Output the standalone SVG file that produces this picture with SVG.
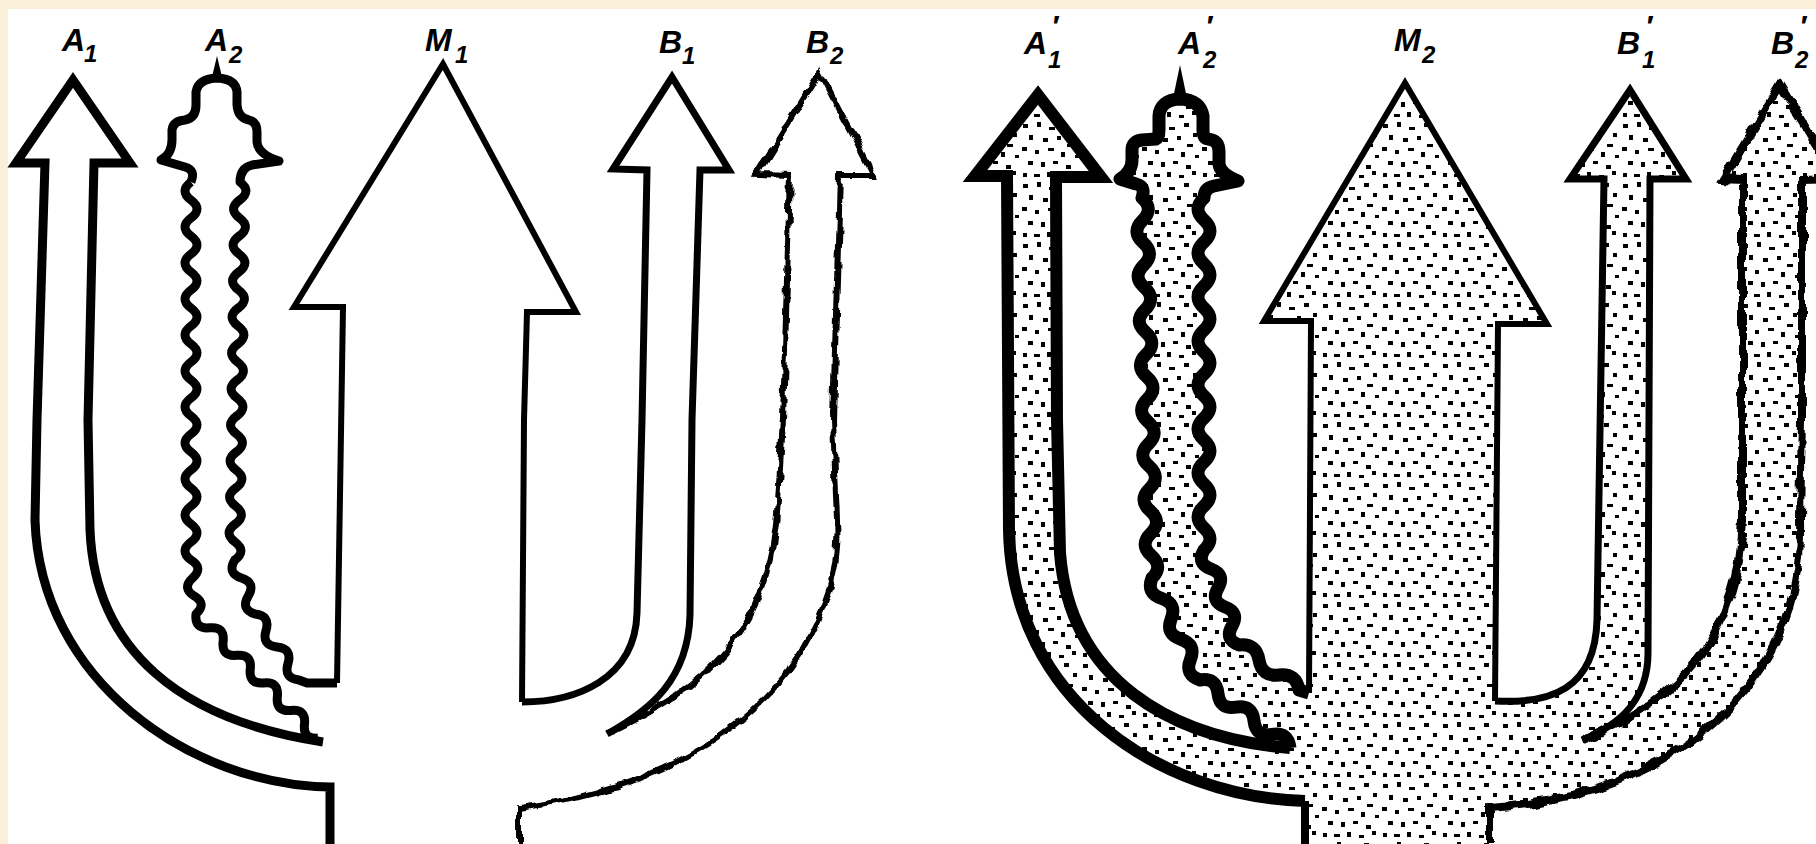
<svg xmlns="http://www.w3.org/2000/svg" width="1816" height="844" viewBox="0 0 1816 844">
<style>
.ln{fill:none;stroke:#000;stroke-linejoin:miter;stroke-linecap:butt}
.wv{fill:none;stroke:#000;stroke-linejoin:round;stroke-linecap:butt}
.lbl{font-family:"Liberation Sans",Arial,sans-serif;font-weight:bold;font-style:italic;font-size:32px;fill:#000}
.sub{font-size:24px}
.pr{font-size:30px}
</style>
<defs>
<pattern id="stip" width="60" height="60" patternUnits="userSpaceOnUse">
<g fill="#000">
<rect x="3" y="4" width="5" height="4"/><rect x="17" y="2" width="4" height="5"/><rect x="29" y="7" width="6" height="3"/><rect x="44" y="3" width="5" height="4"/><rect x="53" y="13" width="4" height="4"/>
<rect x="9" y="15" width="4" height="5"/><rect x="23" y="18" width="5" height="4"/><rect x="37" y="16" width="4" height="4"/><rect x="47" y="24" width="6" height="3"/>
<rect x="2" y="27" width="5" height="4"/><rect x="15" y="30" width="4" height="4"/><rect x="28" y="28" width="6" height="3"/><rect x="41" y="32" width="4" height="5"/><rect x="55" y="35" width="4" height="3"/>
<rect x="8" y="41" width="5" height="4"/><rect x="21" y="42" width="4" height="5"/><rect x="33" y="41" width="5" height="3"/><rect x="46" y="45" width="5" height="4"/>
<rect x="3" y="53" width="4" height="4"/><rect x="14" y="54" width="6" height="3"/><rect x="27" y="52" width="4" height="5"/><rect x="39" y="55" width="5" height="3"/><rect x="52" y="51" width="4" height="4"/>
</g>
</pattern>
<filter id="rough" x="-10%" y="-10%" width="120%" height="120%">
<feTurbulence type="fractalNoise" baseFrequency="0.06" numOctaves="2" seed="4" result="n"/>
<feDisplacementMap in="SourceGraphic" in2="n" scale="9" xChannelSelector="R" yChannelSelector="G"/>
</filter>
</defs>

<g id="background">
<rect x="0" y="0" width="1816" height="844" fill="#FAEFD8"/>
<rect x="8" y="9" width="1808" height="835" fill="#FFFFFF"/>
</g>

<g id="left-figure">
<g id="A1">
<path class="ln" stroke-width="9" d="M 330 844 L 330 787 C 190 785 40 680 35 520 L 37 420 L 45 163 L 16 163 L 73 80 L 130 163 L 94 163 L 88 420 L 90 530 C 95 650 180 720 323 742"/>
</g>
<g id="A2">
<path class="wv" stroke-width="9" d="M 191 182 Q 196 170 185 167 L 161 160 Q 172 154 172 140 L 172 130 Q 173 121 185 120 Q 196 118 196 105 L 196 92 Q 198 79 217 78 Q 236 79 237 92 L 237 105 Q 238 118 249 120 Q 257 122 257 132 L 257 142 Q 258 154 279 161 L 252 165 Q 240 168 240 182 q 12 9 -0.25 18 t -0.25 18 t -0.25 18 t -0.25 18 t -0.25 18 t -0.25 18 t -0.25 18 t -0.25 18 t -0.25 18 t -0.25 18 t -0.25 18 t -0.25 18 t -0.25 18 t -0.25 18 t -0.25 18 t -0.25 18 t -0.25 18 t -0.25 18 t -0.25 18 t -0.25 18 t -0.25 18 q -7.87 13.21 6.75 18 t 6.75 18 t 6.75 18 q 15.48 1.59 11 16.5 t 11 16.5 t 11 16.5 t 11 16.5 L 307 683 L 337 683"/>
<path class="wv" stroke-width="9" d="M 191 182 q -12 9 0 18 t 0 18 t 0 18 t 0 18 t 0 18 t 0 18 t 0 18 t 0 18 t 0 18 t 0 18 t 0 18 t 0 18 t 0 18 t 0 18 t 0 18 t 0 18 t 0 18 t 0 18 t 0 18 t 0 18 t 0 18 q 12.78 7.89 1.67 18 t 1.67 18 t 1.67 18 q -1.77 15.31 13.56 13.78 t 13.56 13.78 t 13.56 13.78 t 13.56 13.78 t 13.56 13.78 t 13.56 13.78 t 13.56 13.78 t 13.56 13.78 t 13.56 13.78"/>
<polygon points="211,81 217,56 223,81" fill="#000"/>
</g>
<g id="M1">
<path class="ln" stroke-width="6" d="M 337 683 L 343 307 L 294 307 L 443 64 L 576 312 L 527 312 L 524 420 L 522 702"/>
</g>
<g id="B1">
<path class="ln" stroke-width="7" d="M 522 702 C 575 702 635 680 637 613 L 642 420 L 647 170 L 613 169 L 672 77 L 729 170 L 700 170 L 692 420 L 690 615 C 688 680 650 710 607 734"/>
</g>
<g id="B2">
<path class="ln" stroke-width="6" stroke-linejoin="round" filter="url(#rough)" d="M 607 734 C 700 690 770 640 778 500 L 783 420 L 790 175 L 757 174 L 820 72 L 874 175 L 840 175 L 833 420 L 837 520 C 845 640 740 780 519 808 L 519 844"/>
</g>
</g>

<g id="right-figure">
<path id="right-fill" fill="url(#stip)" stroke="none" d="M 1305 844 L 1305 801 C 1160 797 1012 700 1009 530 L 1007 176 L 975 176 L 1038 95 L 1101 177 L 1056 177 L 1057 420 L 1060 553 C 1070 680 1170 738 1290 748 q -1.77 -16.37 -18 -13.6 t -18 -13.6 t -18 -13.6 t -18 -13.6 t -18 -13.6 q -15.66 -5.09 -9.6 -20.4 t -9.6 -20.4 t -9.6 -20.4 t -9.6 -20.4 t -9.6 -20.4 q 11.7 -11.5 -0.588 -22.353 t -0.588 -22.353 t -0.588 -22.353 t -0.588 -22.353 t -0.588 -22.353 t -0.588 -22.353 t -0.588 -22.353 t -0.588 -22.353 t -0.588 -22.353 t -0.588 -22.353 t -0.588 -22.353 t -0.588 -22.353 t -0.588 -22.353 t -0.588 -22.353 t -0.588 -22.353 t -0.588 -22.353 t -0.588 -22.353 Q 1146 186 1136 184 L 1120 179 Q 1132 172 1132 160 L 1132 150 Q 1132 141 1142 140 L 1156 139 Q 1159 138 1159 130 L 1159 116 Q 1160 100 1180 99 Q 1200 100 1203 116 L 1203 130 Q 1203 138 1208 139 L 1212 140 Q 1219 142 1219 152 L 1219 164 Q 1220 174 1238 181 L 1214 186 Q 1204 188 1204 198 q -12 11 0 22 t 0 22 t 0 22 t 0 22 t 0 22 t 0 22 t 0 22 t 0 22 t 0 22 t 0 22 t 0 22 t 0 22 t 0 22 t 0 22 t 0 22 t 0 22 q -7.76 13.65 7 19 t 7 19 t 7 19 t 7 19 t 7 19 q 17.2 -2.1 20 15 t 20 15 t 20 15 L 1309 693 L 1311 321 L 1264 321 L 1405 83 L 1547 324 L 1498 324 L 1495 701 C 1550 704 1595 690 1597 620 L 1604 179 L 1570 179 L 1630 90 L 1686 179 L 1650 179 L 1648 653 C 1648 700 1620 725 1582 740 C 1680 700 1738 640 1742 520 L 1742 180 L 1723 179 L 1780 85 L 1837 179 L 1802 180 L 1802 420 L 1800 520 C 1805 680 1680 795 1490 808 L 1490 844 Z"/>
<g id="A1p">
<path class="ln" stroke-width="8" d="M 1305 844 L 1305 801"/>
<path class="ln" stroke-width="12" d="M 1305 801 C 1160 797 1012 700 1009 530 L 1007 176 L 975 176 L 1038 95 L 1101 177 L 1056 177 L 1057 420 L 1060 553 C 1070 680 1170 738 1290 748"/>
</g>
<g id="A2p">
<path class="wv" stroke-width="13" d="M 1290 748 q -1.77 -16.37 -18 -13.6 t -18 -13.6 t -18 -13.6 t -18 -13.6 t -18 -13.6 q -15.66 -5.09 -9.6 -20.4 t -9.6 -20.4 t -9.6 -20.4 t -9.6 -20.4 t -9.6 -20.4 q 11.7 -11.5 -0.588 -22.353 t -0.588 -22.353 t -0.588 -22.353 t -0.588 -22.353 t -0.588 -22.353 t -0.588 -22.353 t -0.588 -22.353 t -0.588 -22.353 t -0.588 -22.353 t -0.588 -22.353 t -0.588 -22.353 t -0.588 -22.353 t -0.588 -22.353 t -0.588 -22.353 t -0.588 -22.353 t -0.588 -22.353 t -0.588 -22.353 Q 1146 186 1136 184 L 1120 179 Q 1132 172 1132 160 L 1132 150 Q 1132 141 1142 140 L 1156 139 Q 1159 138 1159 130 L 1159 116 Q 1160 100 1180 99 Q 1200 100 1203 116 L 1203 130 Q 1203 138 1208 139 L 1212 140 Q 1219 142 1219 152 L 1219 164 Q 1220 174 1238 181 L 1214 186 Q 1204 188 1204 198 q -12 11 0 22 t 0 22 t 0 22 t 0 22 t 0 22 t 0 22 t 0 22 t 0 22 t 0 22 t 0 22 t 0 22 t 0 22 t 0 22 t 0 22 t 0 22 t 0 22 q -7.76 13.65 7 19 t 7 19 t 7 19 t 7 19 t 7 19 q 17.2 -2.1 20 15 t 20 15 t 20 15 L 1309 693"/>
<polygon points="1172,103 1180,65 1188,103" fill="#000"/>
</g>
<g id="M2">
<path class="ln" stroke-width="6" d="M 1309 693 L 1311 321 L 1264 321 L 1405 83 L 1547 324 L 1498 324 L 1495 701"/>
</g>
<g id="B1p">
<path class="ln" stroke-width="7" d="M 1495 701 C 1550 704 1595 690 1597 620 L 1604 179 L 1570 179 L 1630 90 L 1686 179 L 1650 179 L 1648 653 C 1648 700 1620 725 1582 740"/>
</g>
<g id="B2p">
<path class="ln" stroke-width="8" stroke-linejoin="round" filter="url(#rough)" d="M 1582 740 C 1680 700 1738 640 1742 520 L 1742 180 L 1723 179 L 1780 85 L 1837 179 L 1802 180 L 1802 420 L 1800 520 C 1805 680 1680 795 1490 808 L 1490 844"/>
</g>
</g>

<g id="labels">
<text class="lbl" x="62" y="51">A<tspan class="sub" x="84" y="62">1</tspan></text>
<text class="lbl" x="205" y="51">A<tspan class="sub" x="229" y="63">2</tspan></text>
<text class="lbl" x="425" y="51">M<tspan class="sub" x="455" y="63">1</tspan></text>
<text class="lbl" x="659" y="53">B<tspan class="sub" x="682" y="64">1</tspan></text>
<text class="lbl" x="806" y="53">B<tspan class="sub" x="830" y="64">2</tspan></text>
<text class="lbl" x="1024" y="54">A<tspan class="pr" x="1051" y="36">′</tspan><tspan class="sub" x="1048" y="68">1</tspan></text>
<text class="lbl" x="1178" y="54">A<tspan class="pr" x="1205" y="36">′</tspan><tspan class="sub" x="1203" y="68">2</tspan></text>
<text class="lbl" x="1394" y="51">M<tspan class="sub" x="1422" y="63">2</tspan></text>
<text class="lbl" x="1617" y="54">B<tspan class="pr" x="1645" y="36">′</tspan><tspan class="sub" x="1642" y="68">1</tspan></text>
<text class="lbl" x="1771" y="54">B<tspan class="pr" x="1799" y="36">′</tspan><tspan class="sub" x="1795" y="68">2</tspan></text>
</g>
</svg>
